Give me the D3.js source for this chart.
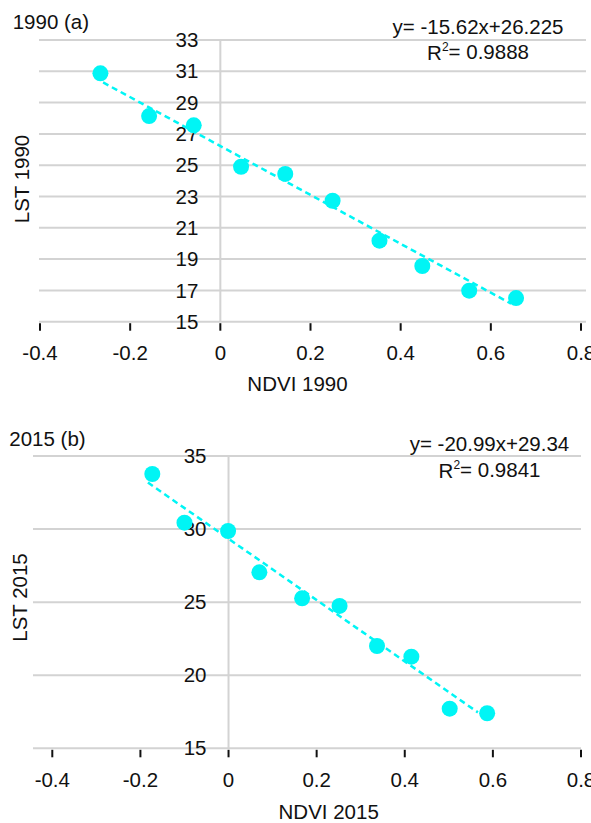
<!DOCTYPE html>
<html>
<head>
<meta charset="utf-8">
<script src="https://cdn.jsdelivr.net/npm/d3@7"></script>
<style>
  body { margin: 0; background: #fff; }
  text { font-family: "Liberation Sans", Arial, sans-serif; fill: #111; }
</style>
</head>
<body>
<script>
// values
const ndvi1990 = [-0.266, -0.158, -0.059, 0.046, 0.144, 0.249, 0.353, 0.448, 0.552, 0.656];
const lst1990 = [30.87, 28.14, 27.55, 24.90, 24.44, 22.73, 20.18, 18.56, 16.98, 16.51];
const ndvi2015 = [-0.173, -0.100, -0.001, 0.070, 0.167, 0.252, 0.337, 0.415, 0.502, 0.587];
const lst2015 = [33.77, 30.44, 29.87, 27.04, 25.26, 24.74, 22.00, 21.27, 17.71, 17.40];

const xTicks = [-0.4, -0.2, 0, 0.2, 0.4, 0.6, 0.8];
const yTicks1990 = [15, 17, 19, 21, 23, 25, 27, 29, 31, 33];
const yTicks2015 = [15, 20, 25, 30, 35];

// trend lines (from the equations shown on the chart)
const trend1990 = { slope: -15.62, intercept: 26.225, from: -0.26, to: 0.645 };
const trend2015 = { slope: -20.99, intercept: 29.34, from: -0.183, to: 0.566 };

const W = 591, H = 823;
const cyan = '#00f5f5';
const grid = '#d3d3d3';

const svg = d3.select('body').append('svg')
  .attr('width', W)
  .attr('height', H);

function drawPanel(p) {
  const x = d3.scaleLinear().domain([-0.4, 0.8]).range(p.xRange);
  const y = d3.scaleLinear().domain(p.yDomain).range(p.yRange);
  const g = svg.append('g');
  const fs = 20.5;

  // horizontal grid
  g.selectAll('.hgrid').data(p.yTicks).enter().append('line')
    .attr('x1', p.gridLeft).attr('x2', p.gridRight)
    .attr('y1', d => y(d)).attr('y2', d => y(d))
    .attr('stroke', grid).attr('stroke-width', 2);

  // vertical axis line at x = 0
  g.append('line')
    .attr('x1', x(0)).attr('x2', x(0))
    .attr('y1', y(p.yDomain[1])).attr('y2', y(p.yDomain[0]))
    .attr('stroke', grid).attr('stroke-width', 2);

  // x ticks
  g.selectAll('.xt').data(xTicks).enter().append('line')
    .attr('x1', d => x(d)).attr('x2', d => x(d))
    .attr('y1', y(p.yDomain[0]) + 1.5).attr('y2', y(p.yDomain[0]) + 9)
    .attr('stroke', '#111').attr('stroke-width', 2);

  g.selectAll('.xl').data(xTicks).enter().append('text')
    .attr('x', d => x(d)).attr('y', p.xTickY)
    .attr('dy', '0.35em')
    .attr('text-anchor', 'middle')
    .attr('font-size', fs)
    .text(d => String(d));

  // y tick labels next to the zero line
  g.selectAll('.yl').data(p.yTicks).enter().append('text')
    .attr('x', x(0) - 22).attr('y', d => y(d))
    .attr('dy', '0.35em')
    .attr('text-anchor', 'end')
    .attr('font-size', fs)
    .text(d => d);

  // trend line
  const t = p.trend;
  g.append('line')
    .attr('x1', x(t.from)).attr('y1', y(t.slope * t.from + t.intercept))
    .attr('x2', x(t.to)).attr('y2', y(t.slope * t.to + t.intercept))
    .attr('stroke', cyan).attr('stroke-width', 2.5)
    .attr('stroke-dasharray', '6,4');

  // points
  g.selectAll('.pt').data(p.xs).enter().append('circle')
    .attr('cx', d => x(d))
    .attr('cy', (d, i) => y(p.ys[i]))
    .attr('r', 8)
    .attr('fill', cyan);

  // labels
  g.append('text').attr('x', p.titlePos[0]).attr('y', p.titlePos[1])
    .attr('dy', '0.35em').attr('font-size', fs).text(p.title);

  g.append('text').attr('x', p.xLabelPos[0]).attr('y', p.xLabelPos[1])
    .attr('dy', '0.35em').attr('text-anchor', 'middle')
    .attr('font-size', fs).text(p.xLabel);

  g.append('text')
    .attr('transform', `translate(${p.yLabelPos[0]},${p.yLabelPos[1]}) rotate(-90)`)
    .attr('dy', '0.35em').attr('text-anchor', 'middle')
    .attr('font-size', fs).text(p.yLabel);

  // equation + R²
  g.append('text').attr('x', p.eqPos[0]).attr('y', p.eqPos[1])
    .attr('dy', '0.35em').attr('text-anchor', 'middle')
    .attr('font-size', fs).text(p.eq);

  const r2 = g.append('text').attr('x', p.eqPos[0]).attr('y', p.eqPos[2])
    .attr('dy', '0.35em').attr('text-anchor', 'middle')
    .attr('font-size', fs);
  r2.append('tspan').text('R');
  r2.append('tspan').attr('font-size', 12).attr('dy', '-0.75em').text('2');
  r2.append('tspan').attr('dy', '0.4em').text('= ' + p.r2);
}

drawPanel({
  xs: ndvi1990, ys: lst1990,
  yTicks: yTicks1990, yDomain: [15, 33],
  xRange: [40, 581], yRange: [321.7, 40],
  gridLeft: 39, gridRight: 586,
  xTickY: 353,
  trend: trend1990,
  title: '1990 (a)', titlePos: [12.7, 21.7],
  xLabel: 'NDVI 1990', xLabelPos: [297.5, 384],
  yLabel: 'LST 1990', yLabelPos: [21.7, 179],
  eq: 'y= -15.62x+26.225', r2: '0.9888', eqPos: [478, 27, 53]
});

drawPanel({
  xs: ndvi2015, ys: lst2015,
  yTicks: yTicks2015, yDomain: [15, 35],
  xRange: [52.3, 581], yRange: [748.3, 456],
  gridLeft: 33, gridRight: 581,
  xTickY: 780,
  trend: trend2015,
  title: '2015 (b)', titlePos: [9.3, 439.3],
  xLabel: 'NDVI 2015', xLabelPos: [328.7, 811.7],
  yLabel: 'LST 2015', yLabelPos: [20, 597.5],
  eq: 'y= -20.99x+29.34', r2: '0.9841', eqPos: [489.5, 444, 471]
});
</script>
</body>
</html>
